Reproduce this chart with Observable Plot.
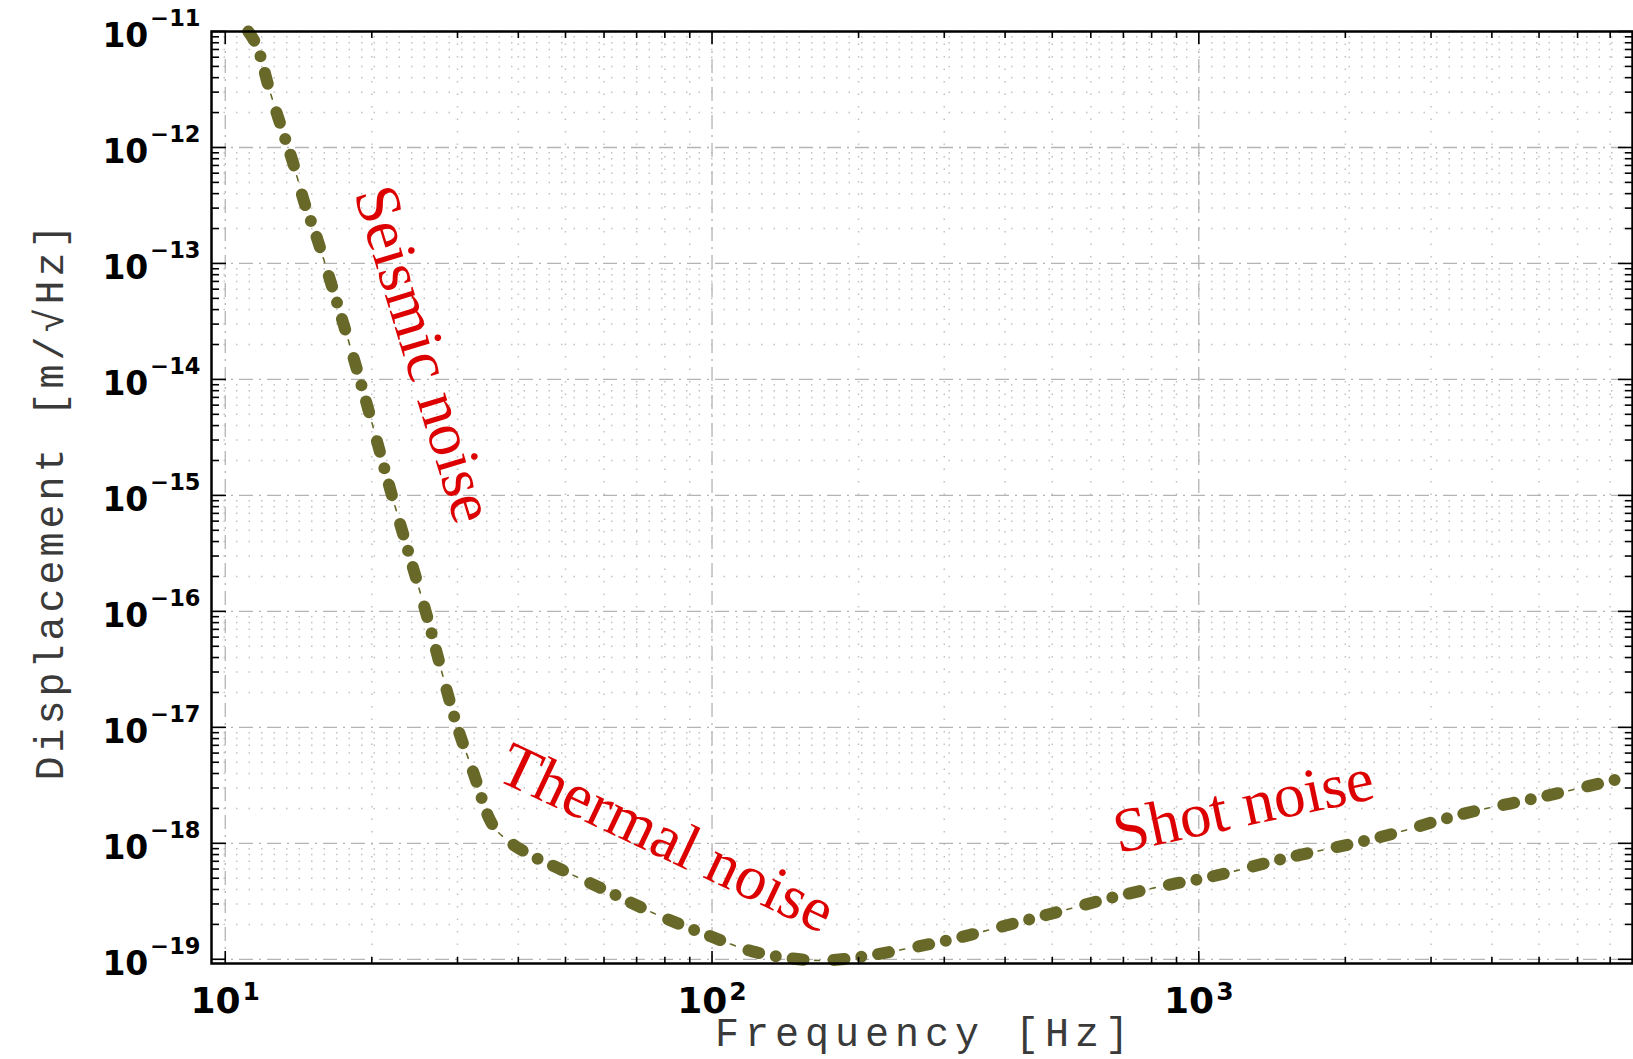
<!DOCTYPE html>
<html>
<head>
<meta charset="utf-8">
<script src="https://cdn.jsdelivr.net/npm/d3@7"></script>
<script src="https://cdn.jsdelivr.net/npm/@observablehq/plot@0.6"></script>
<style>
  html, body { margin: 0; padding: 0; background: #fff; }
  svg { display: block; }
</style>
</head>
<body>
<div id="chart"></div>
<script>
// ---- data ----
const frequencyHz = [11.15, 11.7, 12.3, 13.0, 13.8, 14.5, 15.4, 16.3, 18.9, 22.0, 25.8, 30.0,
  32.4, 34.8, 38.5, 41.1, 49.2, 58.7, 75.7, 99.3, 121, 138, 168, 208, 250, 316, 393, 515,
  676, 887, 1000, 1538, 2337, 3540, 5050, 7550];
const displacement = [1.00e-11, 6.92e-12, 3.24e-12, 1.55e-12, 7.24e-13, 3.47e-13, 1.70e-13, 7.94e-14,
  1.0e-14, 1.0e-15, 1.0e-16, 1.0e-17, 3.98e-18, 1.66e-18, 1.02e-18, 8.51e-19, 5.89e-19, 4.17e-19,
  2.51e-19, 1.58e-19, 1.17e-19, 1.05e-19, 9.77e-20, 1.07e-19, 1.23e-19, 1.51e-19, 1.91e-19, 2.57e-19,
  3.47e-19, 4.47e-19, 4.90e-19, 7.59e-19, 1.12e-18, 1.82e-18, 2.51e-18, 3.72e-18];

const annotationText = ["Seismic noise", "Thermal noise", "Shot noise"];
const annotationFreq = [25.6, 80.7, 1235];
const annotationDisp = [1.65e-14, 1.11e-18, 2.1e-18];
const annotationAngle = [73, 25.3, -12];

const xMajorTicks = [1e1, 1e2, 1e3];
const yMajorTicks = [1e-19, 1e-18, 1e-17, 1e-16, 1e-15, 1e-14, 1e-13, 1e-12, 1e-11];
const minorMultipliers = [2, 3, 4, 5, 6, 7, 8, 9];
const xLabel = "Frequency [Hz]";
const yLabel = "Displacement [m/√Hz]";

const xDomain = [9.37, 7780];
const yDomain = [9.2e-20, 1e-11];

// ---- derived tables ----
const curve = frequencyHz.map((f, i) => ({f, d: displacement[i]}));
const notes = annotationText.map((t, i) => ({t, f: annotationFreq[i], d: annotationDisp[i], a: annotationAngle[i]}));
const minorsOf = (majors, dom) => {
  const out = [];
  const all = [majors[0] / 10, ...majors];
  for (const m of all) for (const k of minorMultipliers) {
    const v = m * k;
    if (v > dom[0] && v < dom[1] && !majors.includes(v)) out.push(v);
  }
  return out;
};
const xMinorTicks = minorsOf(xMajorTicks, xDomain);
const yMinorTicks = minorsOf(yMajorTicks, yDomain);

const expFmt = d => {
  const e = Math.round(Math.log10(d));
  return "10^" + (e < 0 ? "\u2212" + (-e) : String(e));
};

const olive = "#686828";
const tickOpts = {fill: "none", label: null, stroke: "black", strokeWidth: 1.6};

const chart = Plot.plot({
  width: 1633,
  height: 1059,
  marginLeft: 211,
  marginRight: 1,
  marginTop: 31,
  marginBottom: 96,
  x: {type: "log", domain: xDomain},
  y: {type: "log", domain: yDomain},
  style: {background: "#fff", overflow: "visible"},
  marks: [
    // minor grid (dotted)
    Plot.ruleX(xMinorTicks, {stroke: "#c2c2c2", strokeWidth: 1.5, strokeDasharray: "1.5,11"}),
    Plot.ruleY(yMinorTicks, {stroke: "#c2c2c2", strokeWidth: 1.5, strokeDasharray: "1.5,11"}),
    // major grid (dash-dot)
    Plot.ruleX(xMajorTicks, {stroke: "#b4b4b4", strokeWidth: 1.3, strokeDasharray: "14,6,2,6"}),
    Plot.ruleY(yMajorTicks, {stroke: "#b4b4b4", strokeWidth: 1.3, strokeDasharray: "14,6,2,6"}),
    // curve
    Plot.line(curve, {x: "f", y: "d", curve: "monotone-x", stroke: olive, strokeWidth: 1.6,
      strokeDasharray: "0,67,5,14"}),
    Plot.line(curve, {x: "f", y: "d", curve: "monotone-x", stroke: olive, strokeWidth: 12,
      strokeLinecap: "round", strokeDasharray: "11,17,0,17,11,30"}),
    // frame
    Plot.frame({stroke: "black", strokeWidth: 2.5}),
    // inward ticks
    Plot.axisY({...tickOpts, anchor: "left", ticks: yMajorTicks, tickSize: -15}),
    Plot.axisY({...tickOpts, anchor: "left", ticks: yMinorTicks, tickSize: -8}),
    Plot.axisY({...tickOpts, anchor: "right", ticks: yMajorTicks, tickSize: -15}),
    Plot.axisY({...tickOpts, anchor: "right", ticks: yMinorTicks, tickSize: -8}),
    Plot.axisX({...tickOpts, anchor: "bottom", ticks: xMajorTicks, tickSize: -12}),
    Plot.axisX({...tickOpts, anchor: "bottom", ticks: xMinorTicks, tickSize: -6}),
    Plot.axisX({...tickOpts, anchor: "top", ticks: xMajorTicks, tickSize: -12}),
    Plot.axisX({...tickOpts, anchor: "top", ticks: xMinorTicks, tickSize: -6}),
    // tick labels
    Plot.axisY({anchor: "left", ticks: yMajorTicks, tickSize: 0, tickPadding: 11, tickFormat: expFmt,
      label: null, fontSize: 33, fontWeight: "bold", fontFamily: "DejaVu Sans", fill: "black", dy: 5.4}),
    Plot.axisX({anchor: "bottom", ticks: xMajorTicks, tickSize: 0, tickPadding: 24, tickFormat: expFmt,
      label: null, fontSize: 36, fontWeight: "bold", fontFamily: "DejaVu Sans", fill: "black"}),
    // axis titles
    Plot.text([xLabel], {frameAnchor: "bottom", textAnchor: "middle", lineAnchor: "bottom", dy: 82, dx: 3, text: d => d,
      fontFamily: "Liberation Mono", fontSize: 40, fill: "#3a3a3a"}),
    Plot.text([yLabel], {frameAnchor: "left", textAnchor: "middle", lineAnchor: "middle", rotate: -90, dx: -161, dy: 3, text: d => d,
      fontFamily: "Liberation Mono", fontSize: 40, fill: "#3a3a3a"}),
    // annotations
    Plot.text(notes, {x: "f", y: "d", text: "t", rotate: "a", lineAnchor: "middle",
      fontFamily: "Liberation Serif", fontSize: 63, fill: "#dd0000"})
  ]
});

// superscript exponents in tick labels
const NS = "http://www.w3.org/2000/svg";
const fixLabels = (sel, supSize, raise) => {
  chart.querySelectorAll(sel).forEach(t => {
    const m = t.textContent.match(/^(.*)\^(.*)$/);
    if (!m) return;
    t.textContent = "";
    const base = document.createElementNS(NS, "tspan");
    base.textContent = m[1];
    const sup = document.createElementNS(NS, "tspan");
    sup.setAttribute("dy", String(-raise));
    sup.setAttribute("dx", "2");
    sup.setAttribute("font-size", String(supSize));
    sup.textContent = m[2];
    t.append(base, sup);
  });
};
fixLabels('g[aria-label="y-axis tick label"] text', 22.5, 21);
fixLabels('g[aria-label="x-axis tick label"] text', 25, 13);

// wider letter spacing on the axis titles (typewriter look of the original)
chart.querySelectorAll("text").forEach(t => {
  if (t.textContent === xLabel) t.setAttribute("letter-spacing", "6");
  if (t.textContent === yLabel) t.setAttribute("letter-spacing", "4");
});

document.getElementById("chart").append(chart);
</script>
</body>
</html>
